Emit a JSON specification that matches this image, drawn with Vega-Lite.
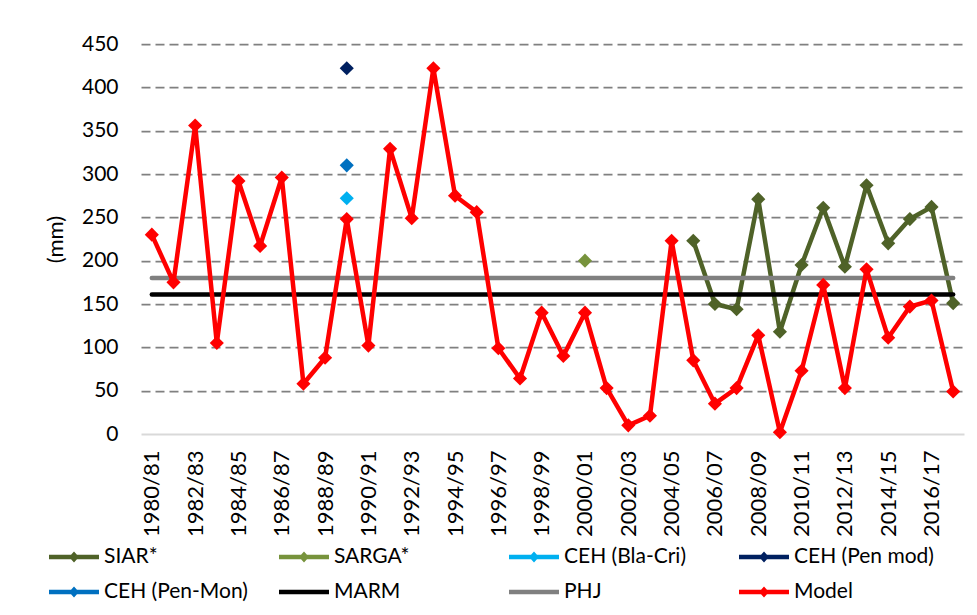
{
  "$schema": "https://vega.github.io/schema/vega-lite/v6.json",
  "width": 823,
  "height": 390,
  "autosize": {"type": "none"},
  "padding": {"left": 141, "top": 44, "right": 13, "bottom": 181},
  "background": "white",
  "config": {
    "font": "Lato",
    "view": {"stroke": null},
    "axis": {"labelFont": "Lato", "titleFont": "Lato", "labelColor": "#000000", "titleColor": "#000000"},
    "legend": {"labelFont": "Lato"}
  },
  "data": {
    "values": [
      {"year": "2005/06", "series": "SIAR*", "mm": 223},
      {"year": "2006/07", "series": "SIAR*", "mm": 150},
      {"year": "2007/08", "series": "SIAR*", "mm": 144},
      {"year": "2008/09", "series": "SIAR*", "mm": 271},
      {"year": "2009/10", "series": "SIAR*", "mm": 118},
      {"year": "2010/11", "series": "SIAR*", "mm": 195},
      {"year": "2011/12", "series": "SIAR*", "mm": 261},
      {"year": "2012/13", "series": "SIAR*", "mm": 193},
      {"year": "2013/14", "series": "SIAR*", "mm": 287},
      {"year": "2014/15", "series": "SIAR*", "mm": 220},
      {"year": "2015/16", "series": "SIAR*", "mm": 248},
      {"year": "2016/17", "series": "SIAR*", "mm": 262},
      {"year": "2017/18", "series": "SIAR*", "mm": 151},
      {"year": "2000/01", "series": "SARGA*", "mm": 200},
      {"year": "1989/90", "series": "CEH (Bla-Cri)", "mm": 272},
      {"year": "1989/90", "series": "CEH (Pen mod)", "mm": 422},
      {"year": "1989/90", "series": "CEH (Pen-Mon)", "mm": 310},
      {"year": "1980/81", "series": "MARM", "mm": 161},
      {"year": "2017/18", "series": "MARM", "mm": 161},
      {"year": "1980/81", "series": "PHJ", "mm": 180},
      {"year": "2017/18", "series": "PHJ", "mm": 180},
      {"year": "1980/81", "series": "Model", "mm": 230},
      {"year": "1981/82", "series": "Model", "mm": 175},
      {"year": "1982/83", "series": "Model", "mm": 356},
      {"year": "1983/84", "series": "Model", "mm": 105},
      {"year": "1984/85", "series": "Model", "mm": 292},
      {"year": "1985/86", "series": "Model", "mm": 217},
      {"year": "1986/87", "series": "Model", "mm": 296},
      {"year": "1987/88", "series": "Model", "mm": 58},
      {"year": "1988/89", "series": "Model", "mm": 88},
      {"year": "1989/90", "series": "Model", "mm": 248},
      {"year": "1990/91", "series": "Model", "mm": 102},
      {"year": "1991/92", "series": "Model", "mm": 329},
      {"year": "1992/93", "series": "Model", "mm": 249},
      {"year": "1993/94", "series": "Model", "mm": 422},
      {"year": "1994/95", "series": "Model", "mm": 275},
      {"year": "1995/96", "series": "Model", "mm": 256},
      {"year": "1996/97", "series": "Model", "mm": 99},
      {"year": "1997/98", "series": "Model", "mm": 64},
      {"year": "1998/99", "series": "Model", "mm": 140},
      {"year": "1999/00", "series": "Model", "mm": 90},
      {"year": "2000/01", "series": "Model", "mm": 140},
      {"year": "2001/02", "series": "Model", "mm": 53},
      {"year": "2002/03", "series": "Model", "mm": 10},
      {"year": "2003/04", "series": "Model", "mm": 21},
      {"year": "2004/05", "series": "Model", "mm": 223},
      {"year": "2005/06", "series": "Model", "mm": 85},
      {"year": "2006/07", "series": "Model", "mm": 35},
      {"year": "2007/08", "series": "Model", "mm": 53},
      {"year": "2008/09", "series": "Model", "mm": 114},
      {"year": "2009/10", "series": "Model", "mm": 2},
      {"year": "2010/11", "series": "Model", "mm": 73},
      {"year": "2011/12", "series": "Model", "mm": 172},
      {"year": "2012/13", "series": "Model", "mm": 53},
      {"year": "2013/14", "series": "Model", "mm": 190},
      {"year": "2014/15", "series": "Model", "mm": 111},
      {"year": "2015/16", "series": "Model", "mm": 147},
      {"year": "2016/17", "series": "Model", "mm": 154},
      {"year": "2017/18", "series": "Model", "mm": 49}
    ]
  },
  "encoding": {
    "x": {
      "field": "year",
      "type": "ordinal",
      "scale": {
        "type": "point",
        "padding": 0.5,
        "domain": ["1980/81","1981/82","1982/83","1983/84","1984/85","1985/86","1986/87","1987/88","1988/89","1989/90","1990/91","1991/92","1992/93","1993/94","1994/95","1995/96","1996/97","1997/98","1998/99","1999/00","2000/01","2001/02","2002/03","2003/04","2004/05","2005/06","2006/07","2007/08","2008/09","2009/10","2010/11","2011/12","2012/13","2013/14","2014/15","2015/16","2016/17","2017/18"]
      },
      "axis": {
        "title": null,
        "values": ["1980/81","1982/83","1984/85","1986/87","1988/89","1990/91","1992/93","1994/95","1996/97","1998/99","2000/01","2002/03","2004/05","2006/07","2008/09","2010/11","2012/13","2014/15","2016/17"],
        "labelAngle": -90,
        "labelAlign": "right",
        "labelBaseline": "middle",
        "labelFontSize": 22,
        "labelPadding": 16,
        "ticks": false,
        "grid": false,
        "domain": true,
        "domainColor": "#D9D9D9",
        "domainWidth": 2,
        "labelOverlap": false
      }
    },
    "y": {
      "field": "mm",
      "type": "quantitative",
      "scale": {"domain": [0, 450], "nice": false},
      "axis": {
        "title": "(mm)",
        "titleFontSize": 22,
        "titleFontWeight": "normal",
        "titlePadding": 14,
        "values": [0, 50, 100, 150, 200, 250, 300, 350, 400, 450],
        "labelFontSize": 21,
        "labelPadding": 23,
        "ticks": false,
        "domain": false,
        "grid": true,
        "gridColor": {"condition": {"test": "datum.value === 0", "value": "transparent"}, "value": "#808080"},
        "gridDash": [9, 5],
        "gridWidth": 1.75
      }
    }
  },
  "layer": [
    {
      "transform": [{"filter": {"field": "series", "oneOf": ["SIAR*", "MARM", "PHJ", "Model"]}}],
      "mark": {"type": "line", "strokeWidth": 4.5, "strokeCap": "round", "strokeJoin": "round"},
      "encoding": {
        "stroke": {
          "field": "series",
          "type": "nominal",
          "scale": {
            "domain": ["SIAR*", "MARM", "PHJ", "Model"],
            "range": ["#4F6228", "#000000", "#808080", "#FF0000"]
          },
          "legend": null
        }
      }
    },
    {
      "transform": [{"filter": {"field": "series", "oneOf": ["SIAR*", "SARGA*", "CEH (Bla-Cri)", "CEH (Pen mod)", "CEH (Pen-Mon)", "Model"]}}],
      "mark": {"type": "point", "shape": "diamond", "filled": true, "size": 200, "strokeWidth": 0, "opacity": 1},
      "encoding": {
        "color": {
          "field": "series",
          "type": "nominal",
          "title": null,
          "scale": {
            "domain": ["SIAR*", "SARGA*", "CEH (Bla-Cri)", "CEH (Pen mod)", "CEH (Pen-Mon)", "MARM", "PHJ", "Model"],
            "range": ["#4F6228", "#77933C", "#00B0F0", "#002060", "#0070C0", "#000000", "#808080", "#FF0000"]
          },
          "legend": {
            "orient": "none",
            "legendX": -92,
            "legendY": 488,
            "direction": "horizontal",
            "columns": 4,
            "gridAlign": "all",
            "columnPadding": 31,
            "rowPadding": -25,
            "symbolSize": 2500,
            "symbolStrokeWidth": 0,
            "labelFontSize": 21,
            "labelOffset": 5,
            "labelLimit": 400,
            "padding": 0
          }
        }
      }
    },
    {
      "transform": [{"filter": {"field": "series", "equal": "__none__"}}],
      "mark": {"type": "point", "filled": true, "size": 200, "strokeWidth": 0, "opacity": 1},
      "encoding": {
        "color": {"field": "series", "type": "nominal", "title": null},
        "shape": {
          "field": "series",
          "type": "nominal",
          "title": null,
          "scale": {
            "domain": ["SIAR*", "SARGA*", "CEH (Bla-Cri)", "CEH (Pen mod)", "CEH (Pen-Mon)", "MARM", "PHJ", "Model"],
            "range": [
              "M-1,-0.09H1V0.09H-1ZM0,-0.22L0.2,0L0,0.22L-0.2,0Z",
              "M-1,-0.09H1V0.09H-1ZM0,-0.22L0.2,0L0,0.22L-0.2,0Z",
              "M-1,-0.09H1V0.09H-1ZM0,-0.22L0.2,0L0,0.22L-0.2,0Z",
              "M-1,-0.09H1V0.09H-1ZM0,-0.22L0.2,0L0,0.22L-0.2,0Z",
              "M-1,-0.09H1V0.09H-1ZM0,-0.22L0.2,0L0,0.22L-0.2,0Z",
              "M-1,-0.09H1V0.09H-1Z",
              "M-1,-0.09H1V0.09H-1Z",
              "M-1,-0.09H1V0.09H-1ZM0,-0.22L0.2,0L0,0.22L-0.2,0Z"
            ]
          }
        }
      }
    }
  ]
}
